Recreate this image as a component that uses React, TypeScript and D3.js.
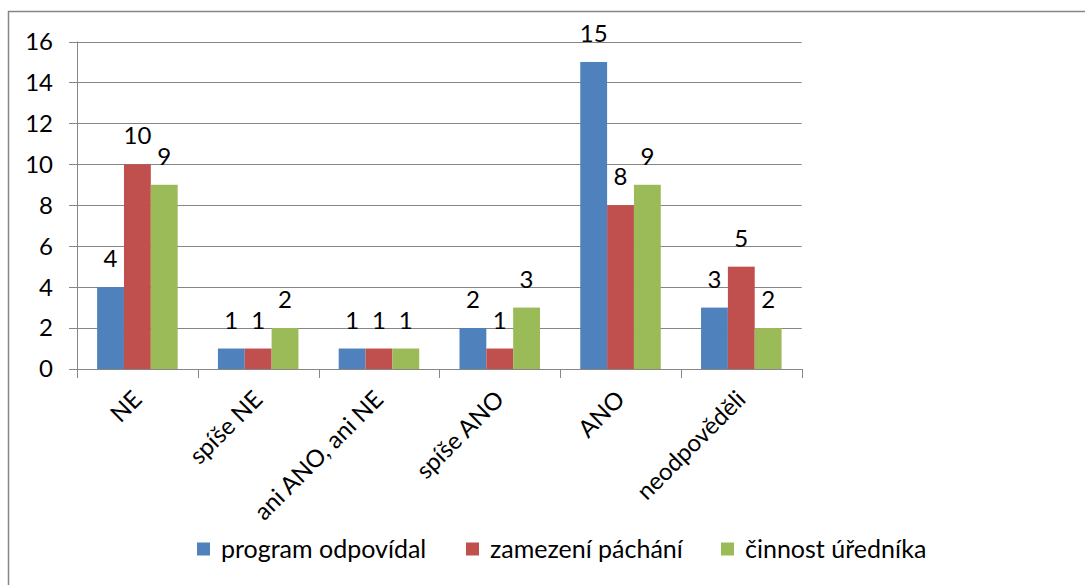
import React, { useEffect, useRef } from "react";
import * as d3 from "d3";

const categories = ["NE", "spíše NE", "ani ANO, ani NE", "spíše ANO", "ANO", "neodpověděli"];
const seriesNames = ["program odpovídal", "zamezení páchání", "činnost úředníka"];
const programOdpovidal = [4, 1, 1, 2, 15, 3];
const zamezeniPachani = [10, 1, 1, 1, 8, 5];
const cinnostUrednika = [9, 2, 1, 3, 9, 2];
const yTicks = [0, 2, 4, 6, 8, 10, 12, 14, 16];
const colors = ["#4F81BD", "#C0504D", "#9BBB59"];

const W = 1085;
const H = 585;
const FONT = "Lato, Calibri, 'Open Sans', sans-serif";
const FS = 24;

export default function App() {
  const ref = useRef<SVGSVGElement>(null);

  useEffect(() => {
    const svg = d3.select(ref.current);
    svg.selectAll("*").remove();

    const left = 77, right = 801.7, top = 41.5, bottom = 369;
    const series = [programOdpovidal, zamezeniPachani, cinnostUrednika];

    const x = d3.scaleBand<string>().domain(categories).range([left, right]).paddingInner(0).paddingOuter(0);
    const y = d3.scaleLinear().domain([0, 16]).range([bottom, top]);
    const inner = d3.scaleBand<number>().domain([0, 1, 2]).range([0, x.bandwidth()]).paddingOuter(0.75).paddingInner(0);

    // outer border
    svg.append("rect").attr("x", 8.5).attr("y", 11.5).attr("width", 1200).attr("height", 700)
      .attr("fill", "#fff").attr("stroke", "#868686").attr("stroke-width", 1.5);

    // gridlines
    svg.append("g").selectAll("line").data(yTicks).join("line")
      .attr("x1", left - 8).attr("x2", right)
      .attr("y1", (d) => Math.round(y(d)) + 0.5).attr("y2", (d) => Math.round(y(d)) + 0.5)
      .attr("stroke", "#868686").attr("stroke-width", 1);

    // y axis line
    svg.append("line").attr("x1", left + 0.5).attr("x2", left + 0.5).attr("y1", y(16)).attr("y2", y(0))
      .attr("stroke", "#868686");

    // y tick labels
    svg.append("g").selectAll("text").data(yTicks).join("text")
      .attr("x", 53).attr("y", (d) => y(d)).attr("dy", "0.35em")
      .attr("text-anchor", "end").attr("font-family", FONT).attr("font-size", FS).attr("fill", "#000")
      .text((d) => String(d));

    // x ticks at category boundaries
    const bounds = categories.map((c) => x(c)!).concat([right]);
    svg.append("g").selectAll("line").data(bounds).join("line")
      .attr("x1", (d) => Math.round(d) + 0.5).attr("x2", (d) => Math.round(d) + 0.5)
      .attr("y1", y(0)).attr("y2", y(0) + 9)
      .attr("stroke", "#868686");

    // bars
    series.forEach((vals, si) => {
      const g = svg.append("g");
      g.selectAll("rect").data(vals).join("rect")
        .attr("x", (_d, i) => x(categories[i])! + inner(si)!)
        .attr("width", inner.bandwidth())
        .attr("y", (d) => y(d))
        .attr("height", (d) => y(0) - y(d))
        .attr("fill", colors[si]);
      g.selectAll("text").data(vals).join("text")
        .attr("x", (_d, i) => x(categories[i])! + inner(si)! + inner.bandwidth() / 2)
        .attr("y", (d) => y(d) - 20)
        .attr("text-anchor", "middle").attr("font-family", FONT).attr("font-size", FS).attr("fill", "#000")
        .text((d) => String(d));
    });

    // x axis line
    svg.append("line").attr("x1", left).attr("x2", right).attr("y1", y(0) + 0.5).attr("y2", y(0) + 0.5)
      .attr("stroke", "#868686");

    // category labels
    svg.append("g").selectAll("text").data(categories).join("text")
      .attr("transform", (d) => `translate(${x(d)! + x.bandwidth() / 2 - 6},${y(0) + 20}) rotate(-45)`)
      .attr("dy", "0.7em")
      .attr("text-anchor", "end").attr("font-family", FONT).attr("font-size", FS).attr("fill", "#000")
      .text((d) => d);

    // legend
    const legendX = [197, 466, 721];
    const lg = svg.append("g").selectAll("g").data(seriesNames).join("g")
      .attr("transform", (_d, i) => `translate(${legendX[i]},549)`);
    lg.append("rect").attr("x", 0).attr("y", -6.5).attr("width", 13).attr("height", 13)
      .attr("fill", (_d, i) => colors[i]);
    lg.append("text").attr("x", 24).attr("y", 0).attr("dy", "0.35em")
      .attr("font-family", FONT).attr("font-size", 25).attr("fill", "#000")
      .text((d) => d);
  }, []);

  return (
    <svg ref={ref} width={W} height={H} style={{ position: "absolute", left: 0, top: 0, background: "#fff" }} />
  );
}
